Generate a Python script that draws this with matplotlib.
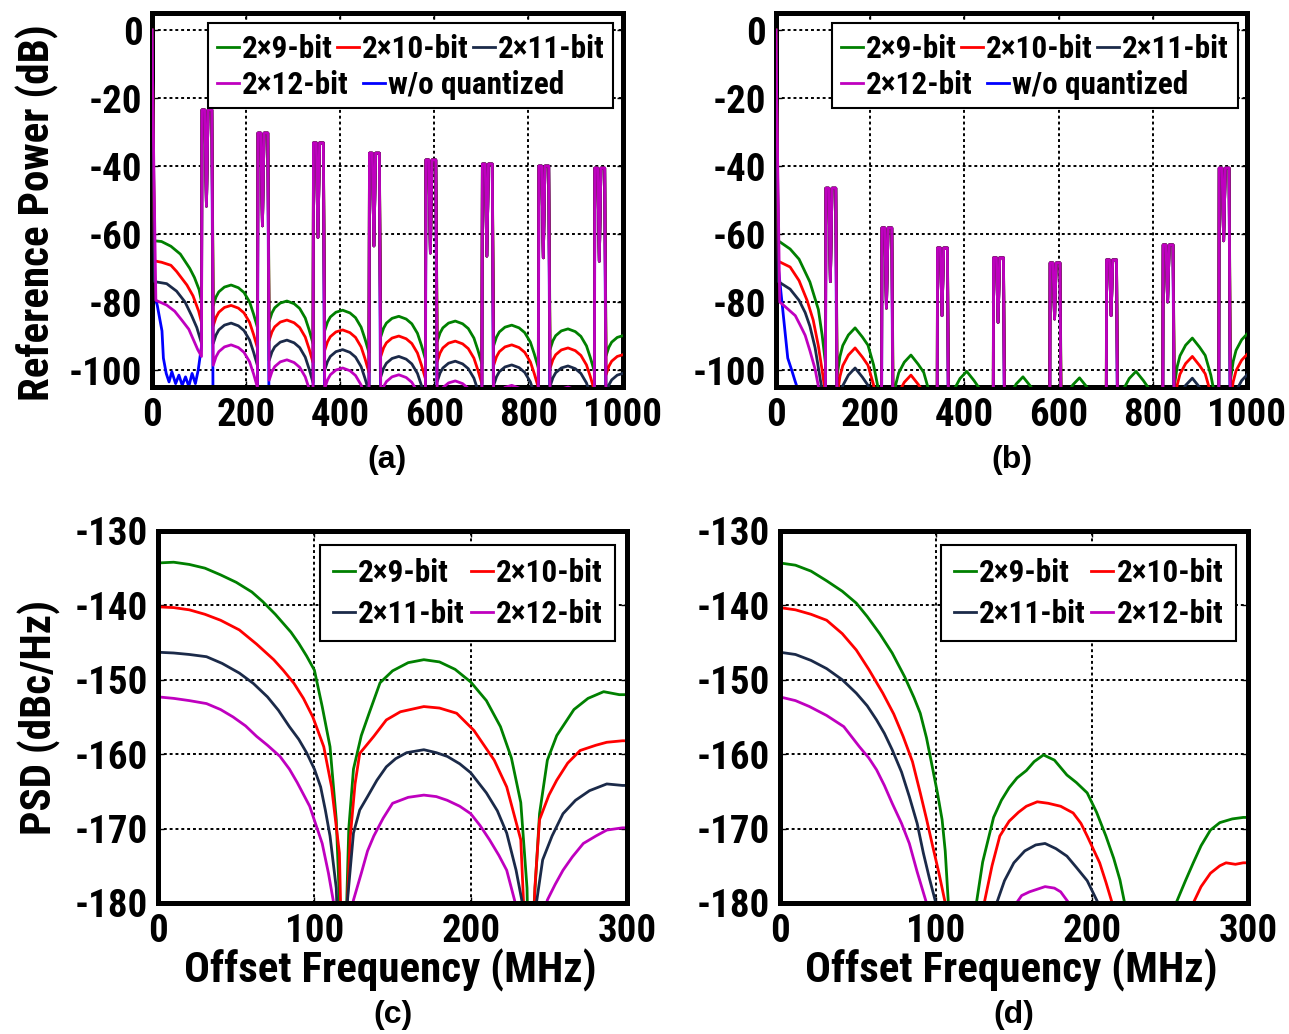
import matplotlib
matplotlib.use('Agg')
import matplotlib.pyplot as plt
from matplotlib import font_manager
from matplotlib.patches import Rectangle


# fonts: the original uses a condensed bold sans; use one if installed
def pick_condensed():
    prefs = ['liberation sans narrow', 'roboto condensed', 'noto sans',
             'open sans', 'dejavu sans', 'inter', 'lato']
    found = []
    for fe in font_manager.fontManager.ttflist:
        nm, fn = fe.name.lower(), fe.fname.lower()
        base = fn.split('/')[-1]
        cond = ('narrow' in nm or 'condensed' in nm or 'narrow' in fn or 'condensed' in fn
                or 'cond' in base
                or str(fe.stretch) in ('condensed', 'semi-condensed', 'extra-condensed'))
        bold = 'bold' in base or fe.weight in ('bold', 700)
        if cond and bold and 'extra' not in base and 'semi' not in base:
            rank = next((i for i, p in enumerate(prefs) if nm.startswith(p)), len(prefs))
            found.append((rank, fe))
    if not found:
        return None
    found.sort(key=lambda t: t[0])
    return found[0][1]


cond_font = pick_condensed()
if cond_font is not None:
    plt.rcParams['font.family'] = [cond_font.name, 'Liberation Sans', 'DejaVu Sans']
    plt.rcParams['font.stretch'] = cond_font.stretch
    fs_tick, fs_leg, fs_lab = 28, 22.5, 31
else:
    plt.rcParams['font.family'] = ['Liberation Sans', 'DejaVu Sans']
    fs_tick, fs_leg, fs_lab = 24, 20, 26
plt.rcParams['font.weight'] = 'bold'
plt.rcParams['axes.unicode_minus'] = False
em_leg = fs_leg * 100 / 72.0   # legend em in pixels

# colours ---------------------------------------------------------------
c_g, c_r, c_n, c_m, c_b = '#008000', '#ff0000', '#1b2a49', '#bf00bf', '#0000ff'
labels = ['2×9-bit', '2×10-bit', '2×11-bit', '2×12-bit', 'w/o quantized']

# ---------------- panels (a)/(b): reference spectrum 0-1000 MHz ----------
spur_center = [118, 237, 355, 474, 594, 714, 834, 953]   # MHz
spur_off = [-12, -6, -2.5, 1, 9]                          # M-shaped spur
spur_kind = ['P', 'P', 'D', 'P', 'P']
spur_peak_a = [-23.5, -30.3, -33.2, -36.2, -38.2, -39.4, -40.0, -40.6]
spur_dip_a = [-51.8, -57.6, -61.0, -63.5, -65.6, -66.5, -67.0, -68.0]
spur_peak_b = [-46.5, -58.2, -64.1, -67.0, -68.5, -67.6, -63.2, -40.6]
spur_dip_b = [-74.0, -81.8, -84.0, -86.0, -85.0, -84.0, -80.0, -62.0]

# lobe shape between spurs (fraction of spacing, dB below lobe top)
lobe_frac = [0.10, 0.15, 0.20, 0.30, 0.42, 0.55, 0.65, 0.75, 0.82, 0.89]
lobe_drop_a = [6.0, 3.5, 2.0, 0.6, 0.0, 0.8, 2.2, 5.0, 8.5, 12.5]
lobe_drop_b = [14.0, 8.4, 5.2, 2.1, 0.0, 2.7, 5.1, 10.9, 16.8, 23.0]

# main lobe (carrier + first lobe) of panel (a)
main_f_a_g = [0, 1.5, 5, 20, 40, 60, 80, 90, 100, 105]
main_db_a_g = [0, -20, -62.0, -62.2, -63.6, -65.9, -70.1, -72.8, -76.4, -80.0]
main_f_a_r = [0, 1.5, 5, 20, 40, 52, 74, 87, 99, 105]
main_db_a_r = [0, -20, -67.9, -68.3, -69.2, -71.0, -75.0, -78.2, -82.7, -86.0]
main_f_a_n = [0, 1.5, 5, 31, 52, 70, 84, 95, 105]
main_db_a_n = [0, -20, -74.0, -74.6, -76.8, -80.0, -84.0, -87.5, -92.1]
main_f_a_m = [0, 1.5, 8, 31, 48, 63, 78, 89, 97, 105]
main_db_a_m = [0, -20, -79.5, -80.9, -82.7, -85.3, -88.0, -91.5, -94.0, -96.0]
main_f_a_b = [0, 1.5, 5, 11, 21, 24, 30, 36, 42, 50, 57, 64, 71, 78, 85, 92, 98, 105]
main_db_a_b = [0, -20, -78, -81, -88.5, -96.5, -101, -103.5, -100.5, -104, -101.5,
               -104.5, -102, -104.8, -101, -104, -100, -93]

# main lobe of panel (b)
main_f_b_g = [0, 1.5, 5, 30, 49, 72, 90, 98, 105]
main_db_b_g = [0, -20, -62.0, -64.4, -67.4, -74.1, -82.2, -89.7, -98.0]
main_f_b_r = [0, 1.5, 5, 30, 49, 66, 79, 90, 98, 105]
main_db_b_r = [0, -20, -68.0, -69.7, -73.7, -79.5, -85.3, -92.9, -100.1, -107.0]
main_f_b_n = [0, 1.5, 5, 30, 49, 62, 72, 83, 92, 100, 105]
main_db_b_n = [0, -20, -74.0, -76.2, -79.5, -83.1, -87.1, -93.4, -101.0, -107.7, -112]
main_f_b_m = [0, 1.5, 8, 19, 41, 51, 62, 72, 83, 94, 105]
main_db_b_m = [0, -20, -80.0, -81.3, -84.0, -86.7, -89.8, -94.3, -99.7, -107.7, -115]
main_f_b_b = [0, 1.5, 5, 8.5, 19, 25, 34, 40, 47, 60, 80, 105]
main_db_b_b = [0, -20, -70, -74.4, -88.5, -96.5, -100.3, -103, -106, -110, -112, -115]

# top of each lobe after spur k (lobes 2..9)
peaks_a_g = [-75.0, -79.7, -82.4, -84.2, -85.6, -86.8, -87.9, -89.8]
peaks_a_r = [-81.0, -85.3, -88.2, -90.0, -91.5, -92.6, -93.5, -95.4]
peaks_a_n = [-86.2, -91.2, -94.0, -96.0, -97.4, -98.5, -98.8, -100.9]
peaks_a_m = [-92.6, -97.0, -99.4, -101.4, -103.2, -104.5, -105.0, -107.0]
peaks_a_b = [-118, -119, -120, -121, -121, -122, -122, -123]
peaks_b_g = [-87.6, -95.6, -100.4, -102.0, -102.3, -100.4, -90.6, -89.0]
peaks_b_r = [-93.5, -101.5, -107.0, -108.5, -108.8, -106.5, -96.0, -95.0]
peaks_b_n = [-99.4, -107.5, -113.0, -114.5, -115.0, -112.5, -102.4, -101.0]
peaks_b_m = [-105.5, -113.5, -119.0, -120.5, -121.0, -118.5, -108.5, -107.5]
peaks_b_b = [-130, -130, -130, -130, -130, -130, -130, -130]

# ---------------- panels (c)/(d): PSD 0-300 MHz --------------------------
f_c_g = [0, 10, 20, 30, 40, 50, 60, 67, 75, 80, 85, 90, 95, 100, 105, 110, 114, 117,
         118.5, 120, 122, 125, 130, 135, 142, 150, 160, 170, 180, 190, 200, 210, 219,
         226, 232, 236, 238, 240, 244, 249, 255, 266, 275, 285, 295, 300]
psd_c_g = [-134.3, -134.2, -134.5, -135.0, -135.9, -136.9, -138.2, -139.5, -141.2,
           -142.4, -143.6, -145.1, -146.8, -148.7, -153.6, -159.0, -168.8, -185, -200,
           -185, -170, -162, -157.5, -154.5, -150.4, -148.8, -147.7, -147.3, -147.6,
           -148.6, -150.3, -152.8, -156.3, -160.5, -166.5, -178, -200, -182, -168,
           -160.8, -157.5, -154.0, -152.5, -151.6, -152.0, -152.0]
f_c_r = [0, 10, 20, 30, 40, 52, 63, 74, 80, 87, 93, 99, 106, 111, 116, 119, 121, 123,
         126, 129, 138, 146, 155, 170, 180, 191, 202, 215, 223, 232, 238, 241, 244, 250,
         255, 262, 270, 280, 287, 297, 300]
psd_c_r = [-140.2, -140.3, -140.6, -141.2, -142.0, -143.3, -145.2, -147.3, -148.7,
           -150.5, -152.5, -155.0, -159.0, -164.4, -173.3, -200, -180, -171, -164,
           -159.9, -157.6, -155.4, -154.3, -153.6, -153.8, -154.5, -156.8, -160.8,
           -164.4, -171.5, -200, -178, -168.8, -165.5, -163.5, -161.2, -159.5, -158.8,
           -158.4, -158.2, -158.2]
f_c_n = [0, 10, 20, 31, 41, 52, 61, 70, 77, 84, 90, 95, 100, 104, 107, 110, 114, 117.5,
         121, 125, 129, 134, 140, 146, 152, 159, 170, 178, 185, 193, 200, 210, 217, 223,
         229, 233, 237.5, 242, 246, 252, 259, 267, 276, 287, 297, 300]
psd_c_n = [-146.3, -146.4, -146.6, -146.9, -147.8, -149.1, -150.5, -152.3, -154.1,
           -156.3, -158.0, -159.8, -162.0, -164.4, -167.5, -171.0, -178, -200, -180,
           -170.6, -167.5, -165.7, -163.5, -161.7, -160.6, -159.8, -159.4, -159.8,
           -160.3, -161.3, -162.5, -165.2, -167.6, -170.6, -175.6, -180, -200, -180,
           -174.2, -171.0, -168.0, -166.2, -164.9, -164.0, -164.2, -164.2]
f_c_m = [0, 10, 20, 31, 40, 48, 56, 63, 70, 78, 84, 89, 93, 97, 101, 105, 109, 112, 114,
         118, 122, 125, 130, 134, 138, 144, 150, 160, 170, 178, 185, 193, 200, 206, 212,
         218, 223, 228, 232, 238, 244, 249, 254, 259, 265, 272, 280, 287, 297, 300]
psd_c_m = [-152.3, -152.5, -152.8, -153.2, -154.0, -155.0, -156.2, -157.6, -158.8,
           -160.3, -162.0, -163.8, -165.4, -167.0, -169.5, -172.0, -176.0, -179.6, -183,
           -200, -183, -179.6, -176.0, -173.0, -171.0, -168.6, -166.6, -165.8, -165.5,
           -165.7, -166.2, -167.0, -168.0, -169.6, -171.5, -173.6, -175.6, -179.6, -184,
           -200, -184, -179.6, -177.5, -175.6, -173.8, -172.0, -171.0, -170.2, -169.9,
           -169.9]

f_d_g = [0, 10, 20, 30, 40, 49, 56, 64, 72, 80, 86, 90, 94, 98, 101, 104, 106, 108, 110,
         118, 126, 130, 137, 142, 147, 152, 158, 163, 169, 176, 184, 190, 197, 203, 209,
         214, 218, 221, 225, 238, 254, 260, 265, 270, 276, 282, 290, 297, 300]
psd_d_g = [-134.3, -134.6, -135.4, -136.7, -138.1, -139.7, -141.5, -143.8, -146.4,
           -149.6, -152.4, -154.5, -157.8, -162.0, -165.2, -168.8, -173.0, -180, -190,
           -200, -180, -174.5, -168.5, -166.2, -164.5, -163.2, -162.2, -161.0, -160.1,
           -160.8, -162.8, -163.8, -165.2, -167.8, -171.0, -174.0, -176.9, -180, -186,
           -200, -180, -177.0, -174.6, -172.3, -170.2, -169.2, -168.7, -168.5, -168.5]
f_d_r = [0, 10, 20, 30, 40, 49, 57, 66, 73, 79, 85, 90, 94, 98, 102, 106, 110, 118, 125,
         131, 136, 141, 147, 153, 158, 165, 172, 180, 188, 193, 197, 201, 205, 209, 213,
         220, 240, 258, 265, 270, 276, 282, 286, 292, 297, 300]
psd_d_r = [-140.3, -140.6, -141.2, -142.0, -143.8, -146.0, -148.6, -151.8, -154.6,
           -157.6, -161.0, -165.2, -168.7, -172.4, -176.0, -180, -190, -200, -190,
           -180, -175.0, -171.0, -169.0, -167.8, -167.0, -166.4, -166.6, -167.0,
           -167.9, -169.3, -171.0, -172.8, -174.6, -177.2, -180, -190, -200, -190,
           -180, -177.8, -176.0, -175.0, -174.6, -174.8, -174.6, -174.6]
f_d_n = [0, 10, 20, 30, 40, 49, 56, 62, 67, 72, 78, 83, 88, 92, 96, 100, 105, 120, 133,
         139, 144, 150, 157, 164, 170, 177, 184, 190, 197, 204, 210, 230, 260, 280, 300]
psd_d_n = [-146.3, -146.6, -147.4, -148.5, -150.0, -151.8, -153.5, -155.4, -157.2,
           -159.4, -162.4, -165.7, -169.3, -173.3, -176.8, -180, -190, -200, -190,
           -180, -177.0, -174.6, -173.0, -172.2, -172.0, -172.7, -173.7, -175.2,
           -177.0, -180, -190, -200, -200, -195, -190]
f_d_m = [0, 10, 19, 30, 41, 51, 57, 62, 67, 72, 78, 83, 88, 94, 100, 120, 140, 150, 155,
         160, 170, 176, 180, 187, 195, 215, 300]
psd_d_m = [-152.3, -152.8, -153.6, -154.8, -156.3, -159.0, -160.5, -162.1, -164.2,
           -166.6, -169.3, -172.0, -175.8, -180, -190, -200, -190, -180.5, -179.0,
           -178.5, -177.8, -178.0, -178.5, -180.5, -188, -200, -200]


def build_trace(main_f, main_db, peaks, drops, spur_peak, spur_dip):
    f, db = list(main_f), list(main_db)
    for k, c in enumerate(spur_center):
        f += [c + o for o in spur_off]
        db += [spur_peak[k] if s == 'P' else spur_dip[k] for s in spur_kind]
        c_next = spur_center[k + 1] if k + 1 < len(spur_center) else c + 119
        for fr, dr in zip(lobe_frac, drops):
            f.append(c + fr * (c_next - c))
            db.append(peaks[k] - dr)
    return f, db


def style_axes(ax):
    for sp in ax.spines.values():
        sp.set_linewidth(3.6)
    ax.grid(True, color='black', linestyle=(0, (1.5, 1.5)), linewidth=1.4)
    ax.tick_params(direction='in', length=4, width=1, labelsize=fs_tick, pad=7,
                   top=True, right=True)
    for lab in ax.get_xticklabels() + ax.get_yticklabels():
        lab.set_fontweight('bold')


fig = plt.figure(figsize=(12.89, 10.34), dpi=100)
ax_a = fig.add_axes([0.118, 0.6257, 0.365, 0.3617])
ax_b = fig.add_axes([0.602, 0.6257, 0.3654, 0.3617])
ax_c = fig.add_axes([0.1226, 0.1267, 0.3639, 0.3598])
ax_d = fig.add_axes([0.605, 0.1267, 0.3631, 0.3598])

top_data = {
    ax_a: [(main_f_a_g, main_db_a_g, peaks_a_g), (main_f_a_r, main_db_a_r, peaks_a_r),
           (main_f_a_n, main_db_a_n, peaks_a_n), (main_f_a_m, main_db_a_m, peaks_a_m),
           (main_f_a_b, main_db_a_b, peaks_a_b), lobe_drop_a, spur_peak_a, spur_dip_a],
    ax_b: [(main_f_b_g, main_db_b_g, peaks_b_g), (main_f_b_r, main_db_b_r, peaks_b_r),
           (main_f_b_n, main_db_b_n, peaks_b_n), (main_f_b_m, main_db_b_m, peaks_b_m),
           (main_f_b_b, main_db_b_b, peaks_b_b), lobe_drop_b, spur_peak_b, spur_dip_b],
}
colors = [c_g, c_r, c_n, c_m, c_b]
zorders = [3, 4, 5, 6, 2]
hlen = 22 / em_leg

for ax, caption in [(ax_a, '(a)'), (ax_b, '(b)')]:
    *series, drops, sp_pk, sp_dp = top_data[ax]
    handles = []
    for (mf, mdb, pk), col, zo in zip(series, colors, zorders):
        f, db = build_trace(mf, mdb, pk, drops, sp_pk, sp_dp)
        handles.append(ax.plot(f, db, color=col, lw=2, zorder=zo)[0])
    ax.set_xlim(0, 1000)
    ax.set_ylim(-105, 5)
    ax.set_xticks([0, 200, 400, 600, 800, 1000])
    ax.set_yticks([-100, -80, -60, -40, -20, 0])
    style_axes(ax)
    # legend: two rows in one box, as in the original
    ax.add_patch(Rectangle((0.119, 0.746), 0.861, 0.227, transform=ax.transAxes,
                           facecolor='white', edgecolor='black', lw=1.5, zorder=8))
    leg1 = ax.legend(handles[:3], labels[:3], loc='center left',
                     bbox_to_anchor=(0.138, 0.905), ncol=3, frameon=False,
                     borderpad=0, borderaxespad=0, handlelength=hlen,
                     handletextpad=3 / em_leg, columnspacing=4 / em_leg, fontsize=fs_leg)
    leg1.set_zorder(9)
    ax.add_artist(leg1)
    leg2 = ax.legend(handles[3:], labels[3:], loc='center left',
                     bbox_to_anchor=(0.138, 0.808), ncol=2, frameon=False,
                     borderpad=0, borderaxespad=0, handlelength=hlen,
                     handletextpad=3 / em_leg, columnspacing=14 / em_leg, fontsize=fs_leg)
    leg2.set_zorder(9)
    ax.text(0.5, -0.195, caption, transform=ax.transAxes, ha='center', va='center',
            fontsize=23, fontweight='bold', family=['Liberation Sans', 'DejaVu Sans'])

ax_a.set_ylabel('Reference Power (dB)', fontsize=fs_lab, fontweight='bold', va='center')
ax_a.yaxis.set_label_coords(-0.243, 0.465)

bottom = {
    ax_c: [(f_c_g, psd_c_g), (f_c_r, psd_c_r), (f_c_n, psd_c_n), (f_c_m, psd_c_m)],
    ax_d: [(f_d_g, psd_d_g), (f_d_r, psd_d_r), (f_d_n, psd_d_n), (f_d_m, psd_d_m)],
}
for ax, caption in [(ax_c, '(c)'), (ax_d, '(d)')]:
    hs = []
    for (f, p), col in zip(bottom[ax], colors[:4]):
        hs.append(ax.plot(f, p, color=col, lw=2)[0])
    ax.set_xlim(0, 300)
    ax.set_ylim(-180, -130)
    ax.set_xticks([0, 100, 200, 300])
    ax.set_yticks([-180, -170, -160, -150, -140, -130])
    style_axes(ax)
    leg = ax.legend([hs[0], hs[2], hs[1], hs[3]],
                    [labels[0], labels[2], labels[1], labels[3]],
                    loc='upper right', bbox_to_anchor=(0.974, 0.962), borderaxespad=0,
                    ncol=2, fancybox=False, edgecolor='black', framealpha=1,
                    borderpad=0.4, labelspacing=0.35, handlelength=hlen,
                    handletextpad=3 / em_leg, columnspacing=6 / em_leg, fontsize=fs_leg)
    leg.get_frame().set_linewidth(1.5)
    ax.set_xlabel('Offset Frequency (MHz)', fontsize=fs_lab, fontweight='bold', va='center')
    ax.xaxis.set_label_coords(0.495, -0.18)
    ax.text(0.5, -0.301, caption, transform=ax.transAxes, ha='center', va='center',
            fontsize=23, fontweight='bold', family=['Liberation Sans', 'DejaVu Sans'])

ax_c.set_ylabel('PSD (dBc/Hz)', fontsize=fs_lab, fontweight='bold', va='center')
ax_c.yaxis.set_label_coords(-0.252, 0.5)

fig.savefig('out.png', dpi=100)
